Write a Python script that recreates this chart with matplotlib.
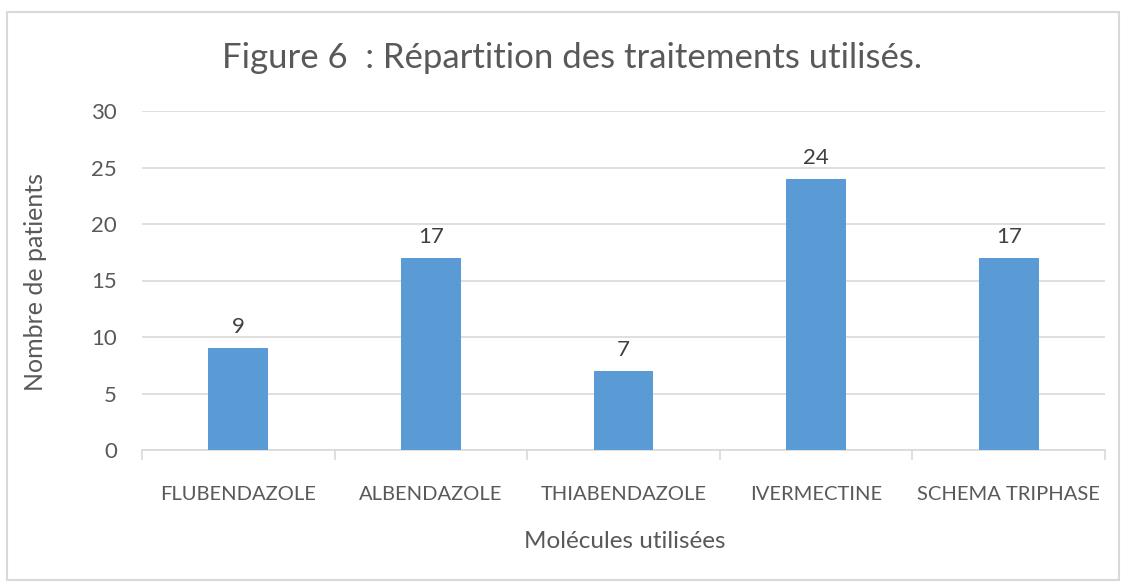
import matplotlib
matplotlib.use("Agg")
import matplotlib.pyplot as plt
from matplotlib.patches import Rectangle

# data
molecules = ["FLUBENDAZOLE", "ALBENDAZOLE", "THIABENDAZOLE", "IVERMECTINE", "SCHEMA TRIPHASE"]
patients = [9, 17, 7, 24, 17]
y_ticks = [0, 5, 10, 15, 20, 25, 30]

text_col = "#595959"
bar_col = "#5B9BD5"
grid_col = "#D9D9D9"

plt.rcParams["font.family"] = ["Lato", "DejaVu Sans"]

fig = plt.figure(figsize=(11.25, 5.83), dpi=100)
fig.patches.append(Rectangle((7 / 1125, 3 / 583), 1112 / 1125, 568 / 583,
                             transform=fig.transFigure, fill=False,
                             edgecolor="#D9D9D9", linewidth=1.5))

ax = fig.add_axes([142 / 1125, 1 - 450 / 583, 963 / 1125, 339 / 583])
x = range(len(molecules))
bars = ax.bar(x, patients, width=0.31, color=bar_col, zorder=3)
for b, v in zip(bars, patients):
    ax.annotate(str(v), (b.get_x() + b.get_width() / 2, v), xytext=(0, 8),
                textcoords="offset points", ha="center", va="bottom",
                fontsize=16, color="#404040")

ax.set_xlim(-0.5, len(molecules) - 0.5)
ax.set_ylim(0, 30)
ax.set_yticks(y_ticks)
ax.yaxis.grid(True, color=grid_col, linewidth=1.2, zorder=0)
ax.set_xticks(x)
ax.set_xticklabels(molecules)
ax.set_xticks([i - 0.5 for i in range(len(molecules) + 1)], minor=True)
ax.tick_params(axis="x", which="major", length=0, pad=32, labelsize=14.5, labelcolor=text_col)
ax.tick_params(axis="x", which="minor", length=7, color=grid_col, width=1.2)
ax.tick_params(axis="y", length=0, pad=18, labelsize=16, labelcolor=text_col)
for lab in ax.get_xticklabels():
    lab.set_va("center")
for s in ["top", "right", "left"]:
    ax.spines[s].set_visible(False)
ax.spines["bottom"].set_color(grid_col)
ax.spines["bottom"].set_linewidth(1.2)

ax.set_xlabel("Molécules utilisées", fontsize=17.5, color=text_col, va="center")
ax.set_ylabel("Nombre de patients", fontsize=18, color=text_col, va="center")
ax.xaxis.set_label_coords(0.5 + (624 - 623) / 963, (450 - 542) / 339)
ax.yaxis.set_label_coords((35 - 142) / 963, (450 - 282) / 339)
fig.text(0.508, 1 - 58 / 583, "Figure 6  : Répartition des traitements utilisés.",
         ha="center", va="center", fontsize=25, color=text_col)

fig.savefig("out.png", dpi=100)
